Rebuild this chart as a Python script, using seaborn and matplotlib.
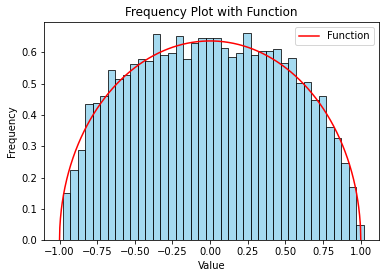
import numpy as np
import pandas as pd
import matplotlib
matplotlib.use('Agg')
import matplotlib.pyplot as plt
import seaborn as sns

# bin layout (40 bins of width 0.05)
bin_start = -0.98
bin_width = 0.05
n_bins = 40

# bar heights (density)
heights = [0.150, 0.224, 0.288, 0.436, 0.439, 0.461, 0.545, 0.516, 0.529, 0.562,
           0.580, 0.573, 0.658, 0.593, 0.597, 0.653, 0.580, 0.631, 0.647, 0.647,
           0.647, 0.615, 0.586, 0.599, 0.663, 0.593, 0.604, 0.604, 0.612, 0.567,
           0.583, 0.501, 0.505, 0.449, 0.462, 0.362, 0.327, 0.247, 0.170, 0.049]

# the overlaid function: semicircle of radius 1
radius = 1.0

edges = bin_start + bin_width * np.arange(n_bins + 1)
centers = (edges[:-1] + edges[1:]) / 2
df = pd.DataFrame({'value': centers, 'weight': heights})

fig, ax = plt.subplots(figsize=(386 / 72, 278 / 72), dpi=72)
fig.subplots_adjust(left=0.1148, right=0.9819, top=0.9198, bottom=0.1356)

sns.histplot(data=df, x='value', weights='weight', binwidth=bin_width,
             binrange=(edges[0], edges[-1]), stat='count',
             color='skyblue', edgecolor='black', alpha=0.75, ax=ax)

x = np.linspace(-radius, radius, 1000)
y = 2 / (np.pi * radius ** 2) * np.sqrt(radius ** 2 - x ** 2)
sns.lineplot(x=x, y=y, color='red', label='Function', ax=ax)

ax.set_title('Frequency Plot with Function')
ax.set_xlabel('Value')
ax.set_ylabel('Frequency')
ax.legend(loc='upper right')

plt.savefig('out.png', dpi=72)
